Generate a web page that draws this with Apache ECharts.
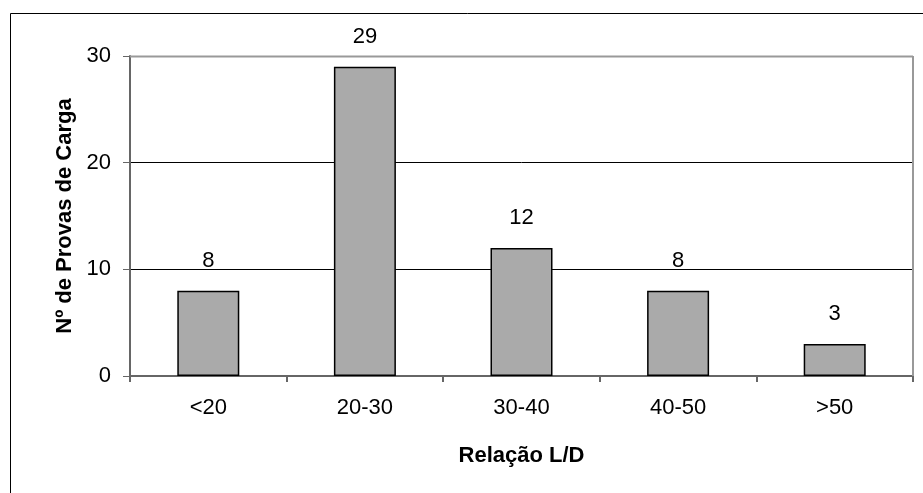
<!DOCTYPE html>
<html><head><meta charset="utf-8">
<script src="https://cdn.jsdelivr.net/npm/echarts@6/dist/echarts.min.js"></script>
<style>html,body{margin:0;padding:0;background:#fff}#c{width:923px;height:493px}</style>
</head><body><div id="c"></div>
<script>
const categories = ['<20', '20-30', '30-40', '40-50', '>50'];
const values = [8, 29, 12, 8, 3];
const yTicks = [0, 10, 20, 30];
const xTitle = 'Relação L/D';
const yTitle = 'Nº de Provas de Carga';

const chart = echarts.init(document.getElementById('c'), null, {renderer: 'canvas'});
const font = 'Liberation Sans';
chart.setOption({
  animation: false,
  backgroundColor: '#fff',
  grid: {left: 130, right: 10, top: 56, bottom: 117, show: false},
  graphic: [
    {type: 'rect', shape: {x: 10.5, y: 13.5, width: 940, height: 520}, style: {fill: 'none', stroke: '#000', lineWidth: 1}, z: 0},
    {type: 'line', shape: {x1: 130, y1: 56.5, x2: 913, y2: 56.5}, style: {stroke: '#999', lineWidth: 2}, z: 10},
    {type: 'line', shape: {x1: 913, y1: 56, x2: 913, y2: 376}, style: {stroke: '#999', lineWidth: 2}, z: 10}
  ],
  xAxis: {
    type: 'category', data: categories,
    axisLine: {lineStyle: {color: '#666', width: 2}},
    axisTick: {show: true, length: 6, alignWithLabel: false, lineStyle: {color: '#666', width: 2}},
    axisLabel: {color: '#000', fontSize: 22, fontFamily: font, margin: 21},
    name: xTitle, nameLocation: 'middle', nameGap: 69,
    nameTextStyle: {fontSize: 22, fontWeight: 'bold', fontFamily: font, color: '#000'}
  },
  yAxis: {
    type: 'value', min: yTicks[0], max: yTicks[yTicks.length - 1], interval: 10,
    axisLine: {show: true, lineStyle: {color: '#666', width: 2}},
    axisTick: {show: true, length: 7, lineStyle: {color: '#666', width: 1}},
    axisLabel: {color: '#000', fontSize: 22, fontFamily: font, margin: 19},
    splitLine: {show: true, lineStyle: {color: '#000', width: 1}},
    name: yTitle, nameLocation: 'middle', nameGap: 53, nameRotate: 90,
    nameTextStyle: {fontSize: 22, fontWeight: 'bold', fontFamily: font, color: '#000'}
  },
  series: [{
    type: 'bar', data: values, barWidth: 62,
    itemStyle: {color: '#aaaaaa', borderColor: '#000', borderWidth: 1.5},
    label: {show: true, position: 'top', distance: 19, color: '#000', fontSize: 22, fontFamily: font}
  }]
});
</script></body></html>
